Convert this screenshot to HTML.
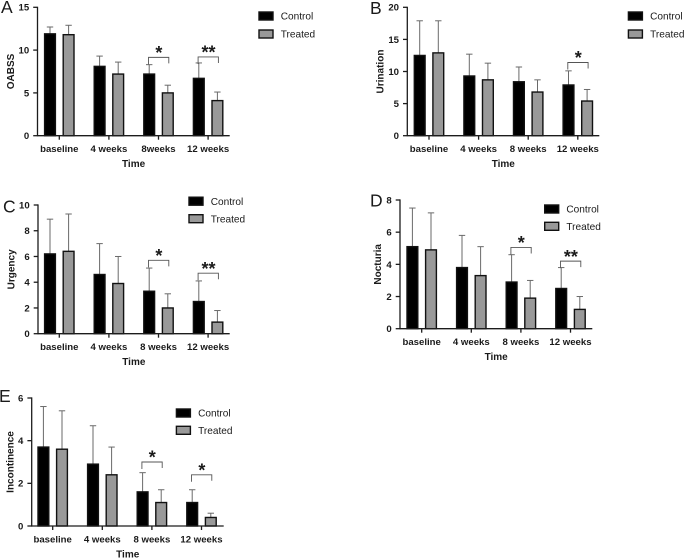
<!DOCTYPE html>
<html lang="en">
<head>
<meta charset="utf-8">
<title>Symptom scores over time</title>
<style>
html,body{margin:0;padding:0;background:#fff;width:685px;height:559px;overflow:hidden}
svg{display:block;filter:blur(0.35px)}
text{font-family:"Liberation Sans",Arial,sans-serif;fill:#1a1a1a}
</style>
</head>
<body>
<svg id="figure" xmlns="http://www.w3.org/2000/svg" width="685" height="559" viewBox="0 0 685 559"></svg>
<script>
const seriesNames = ['Control', 'Treated'];
const categoriesA = ['baseline', '4 weeks', '8weeks', '12 weeks'];
const categories = ['baseline', '4 weeks', '8 weeks', '12 weeks'];

const ticksA = [0, 5, 10, 15];
const controlA = [11.9, 8.1, 7.2, 6.7];
const controlUpperA = [12.7, 9.3, 8.3, 8.5];
const treatedA = [11.8, 7.2, 5.0, 4.1];
const treatedUpperA = [12.9, 8.6, 5.9, 5.1];
const sigA = ['', '', '*', '**'];
const sigLevelA = [0, 0, 9.15, 9.2];

const ticksB = [0, 5, 10, 15, 20];
const controlB = [12.5, 9.3, 8.4, 7.9];
const controlUpperB = [17.9, 12.7, 10.7, 10.1];
const treatedB = [12.9, 8.7, 6.8, 5.4];
const treatedUpperB = [17.9, 11.3, 8.7, 7.2];
const sigB = ['', '', '', '*'];
const sigLevelB = [0, 0, 0, 11.4];

const ticksC = [0, 2, 4, 6, 8, 10];
const controlC = [6.2, 4.6, 3.3, 2.5];
const controlUpperC = [8.9, 7.0, 5.1, 4.1];
const treatedC = [6.4, 3.9, 2.0, 0.9];
const treatedUpperC = [9.3, 6.0, 3.1, 1.8];
const sigC = ['', '', '*', '**'];
const sigLevelC = [0, 0, 5.7, 4.7];

const ticksD = [0, 2, 4, 6, 8];
const controlD = [5.1, 3.8, 2.9, 2.5];
const controlUpperD = [7.5, 5.8, 4.6, 3.8];
const treatedD = [4.9, 3.3, 1.9, 1.2];
const treatedUpperD = [7.2, 5.1, 3.0, 2.0];
const sigD = ['', '', '*', '**'];
const sigLevelD = [0, 0, 5.05, 4.2];

const ticksE = [0, 2, 4, 6];
const controlE = [3.7, 2.9, 1.6, 1.1];
const controlUpperE = [5.6, 4.7, 2.5, 1.7];
const treatedE = [3.6, 2.4, 1.1, 0.4];
const treatedUpperE = [5.4, 3.7, 1.7, 0.6];
const sigE = ['', '', '*', '*'];
const sigLevelE = [0, 0, 3.0, 2.4];

const panels = [
  {id:'a', letter:'A', title:'OABSS', cats:categoriesA, ticks:ticksA, c:controlA, cu:controlUpperA, t:treatedA, tu:treatedUpperA, sig:sigA, lvl:sigLevelA,
   axisX:37.5, top:7.3, y0:135.7, xEnd:229.7, tick0:59.3, titleOff:23.5, legX:258.3, legY:16, legGap:18, lx:1, ly:13},
  {id:'b', letter:'B', title:'Urination', cats:categories, ticks:ticksB, c:controlB, cu:controlUpperB, t:treatedB, tu:treatedUpperB, sig:sigB, lvl:sigLevelB,
   axisX:407.3, top:7.3, y0:135.7, xEnd:599.3, tick0:429, titleOff:24, legX:627.7, legY:16, legGap:18, lx:370, ly:14},
  {id:'c', letter:'C', title:'Urgency', cats:categories, ticks:ticksC, c:controlC, cu:controlUpperC, t:treatedC, tu:treatedUpperC, sig:sigC, lvl:sigLevelC,
   axisX:38, top:205, y0:333.7, xEnd:229.7, tick0:59.3, titleOff:23.7, legX:188.3, legY:201.2, legGap:17.5, lx:3, ly:212.7},
  {id:'d', letter:'D', title:'Nocturia', cats:categories, ticks:ticksD, c:controlD, cu:controlUpperD, t:treatedD, tu:treatedUpperD, sig:sigD, lvl:sigLevelD,
   axisX:400, top:200, y0:328.7, xEnd:592.3, tick0:421.7, titleOff:19, legX:544, legY:209, legGap:17.3, lx:370, ly:206.7},
  {id:'e', letter:'E', title:'Incontinence', cats:categories, ticks:ticksE, c:controlE, cu:controlUpperE, t:treatedE, tu:treatedUpperE, sig:sigE, lvl:sigLevelE,
   axisX:31.7, top:398, y0:526, xEnd:223.7, tick0:52.7, titleOff:18.4, legX:175.7, legY:413, legGap:17.3, lx:-1, ly:402}
];

const SVGNS = 'http://www.w3.org/2000/svg';
const figure = document.getElementById('figure');
const GROUP_STEP = 49.6, BAR_OFFSET = 9.3, BAR_W = 10.8, CAP = 3.2;
const INK = '#1c1c1c', ERR = '#6a6a6a', GREY = '#999999';

function make(parent, tag, props, text) {
  const el = document.createElementNS(SVGNS, tag);
  for (const k in props) el.setAttribute(k, props[k]);
  if (text !== undefined) el.textContent = text;
  parent.appendChild(el);
  return el;
}

function drawPanel(p) {
  const g = make(figure, 'g', {});
  
  

  const yMax = p.ticks[p.ticks.length - 1];
  const yScale = v => p.y0 - (v / yMax) * (p.y0 - p.top);
  const xScale = i => p.tick0 + i * GROUP_STEP;

  const letter = make(g, 'text', {x:p.lx, y:p.ly, 'font-size':17.5}, p.letter);
  
  

  p.cats.forEach((cat, i) => {
    const cx = xScale(i);
    [[p.c, p.cu, -BAR_OFFSET, '#000000', 'control'], [p.t, p.tu, BAR_OFFSET, GREY, 'treated']].forEach(s => {
      const bx = cx + s[2];
      const vTop = yScale(s[0][i]);
      const uTop = yScale(s[1][i]);

      const stem = make(g, 'line', {x1:bx, x2:bx, y1:vTop, y2:uTop, stroke:ERR, 'stroke-width':1});
      
      

      const cap = make(g, 'line', {x1:bx - CAP, x2:bx + CAP, y1:uTop, y2:uTop, stroke:ERR, 'stroke-width':1});
      
      

      const bar = make(g, 'rect', {x:bx - BAR_W / 2, y:vTop, width:BAR_W, height:p.y0 - vTop, fill:s[3], stroke:'#111', 'stroke-width':1.4});
      
      
    });

    const tick = make(g, 'line', {x1:cx, x2:cx, y1:p.y0, y2:p.y0 + 4, stroke:INK, 'stroke-width':1.3});
    
    

    const label = make(g, 'text', {x:cx, y:p.y0 + 16.3, 'text-anchor':'middle', 'font-size':9.6, 'font-weight':'bold'}, cat);
    
    

    if (p.sig[i]) {
      const by = yScale(p.lvl[i]);
      const bracket = make(g, 'path', {d:'M' + (cx - 10) + ' ' + (by + 7) + 'V' + by + 'H' + (cx + 10.3) + 'V' + (by + 6), fill:'none', stroke:'#555', 'stroke-width':0.9});
      
      

      const star = make(g, 'text', {x:cx + 0.4, y:by + 1.7, 'text-anchor':'middle', 'font-size':18, 'font-weight':'bold'}, p.sig[i]);
      
      
    }
  });

  const yAxis = make(g, 'line', {x1:p.axisX, x2:p.axisX, y1:p.top - 0.6, y2:p.y0 + 0.6, stroke:INK, 'stroke-width':1.3});
  
  

  const xAxis = make(g, 'line', {x1:p.axisX, x2:p.xEnd, y1:p.y0, y2:p.y0, stroke:INK, 'stroke-width':1.3});
  
  

  p.ticks.forEach(v => {
    const y = yScale(v);
    const tick = make(g, 'line', {x1:p.axisX - 4.3, x2:p.axisX, y1:y, y2:y, stroke:INK, 'stroke-width':1.3});
    
    

    const label = make(g, 'text', {x:p.axisX - 8.3, y:y + 3.4, 'text-anchor':'end', 'font-size':9.6, 'font-weight':'bold'}, v);
    
    
  });

  const midX = (p.axisX + p.xEnd) / 2;
  const xTitle = make(g, 'text', {x:midX, y:p.y0 + 31.5, 'text-anchor':'middle', 'font-size':10, 'font-weight':'bold'}, 'Time');
  
  

  const midY = (p.top + p.y0) / 2;
  const tx = p.axisX - p.titleOff;
  const yTitle = make(g, 'text', {x:tx, y:midY, 'text-anchor':'middle', 'font-size':10, 'font-weight':'bold', transform:'rotate(-90 ' + tx + ' ' + midY + ')'}, p.title);
  
  

  seriesNames.forEach((name, i) => {
    const cy = p.legY + i * p.legGap;
    const swatch = make(g, 'rect', {x:p.legX + 0.7, y:cy - 4, width:14, height:8, fill:i ? GREY : '#000', stroke:'#111', 'stroke-width':1.4});
    
    

    const label = make(g, 'text', {x:p.legX + 22.4, y:cy + 3.6, 'font-size':10.1}, name);
    
    
  });
}

panels.forEach(drawPanel);
</script>
</body>
</html>
